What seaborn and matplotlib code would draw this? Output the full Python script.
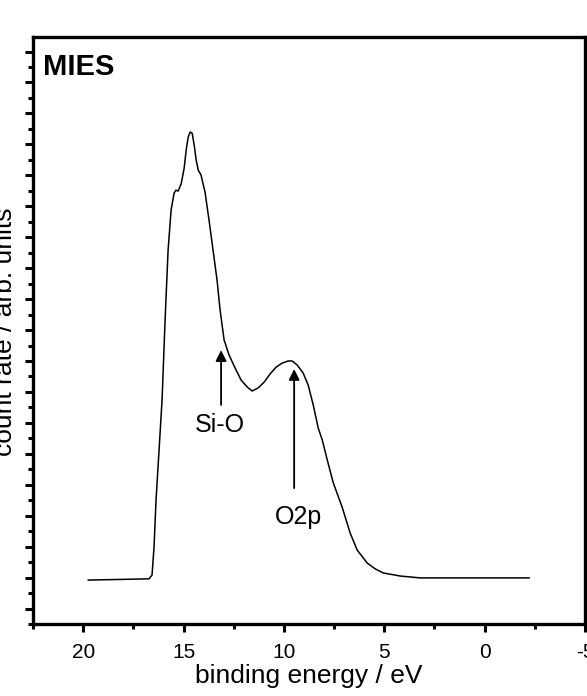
import matplotlib
matplotlib.use("Agg")
import matplotlib.pyplot as plt
import seaborn as sns
import pandas as pd
from matplotlib.ticker import MultipleLocator

# binding energy (eV) and count rate (arb. units)
energy = [19.76, 18.16, 16.72, 16.57, 16.47, 16.37, 16.22, 16.07, 15.92, 15.77,
          15.62, 15.47, 15.37, 15.27, 15.12, 14.97, 14.87, 14.77, 14.67, 14.57,
          14.47, 14.37, 14.27, 14.13, 13.93, 13.73, 13.53, 13.33, 13.18, 12.98,
          12.73, 12.43, 12.13, 11.83, 11.58, 11.28, 10.98, 10.69, 10.39, 10.09,
          9.79, 9.59, 9.34, 9.04, 8.79, 8.54, 8.29, 8.09, 7.84, 7.54,
          7.10, 6.70, 6.35, 5.85, 5.45, 5.05, 4.20, 3.21, 0.72, -2.23]
counts = [0.92, 0.94, 0.96, 1.08, 1.99, 3.51, 5.12, 6.74, 9.32, 11.58,
          12.88, 13.43, 13.52, 13.49, 13.72, 14.23, 14.81, 15.23, 15.40, 15.36,
          14.98, 14.49, 14.17, 14.01, 13.46, 12.55, 11.58, 10.61, 9.65, 8.68,
          8.19, 7.77, 7.38, 7.16, 7.03, 7.13, 7.32, 7.58, 7.80, 7.93,
          8.00, 8.00, 7.87, 7.61, 7.22, 6.58, 5.83, 5.45, 4.80, 4.06,
          3.28, 2.44, 1.89, 1.47, 1.28, 1.15, 1.05, 0.99, 0.99, 0.99]

x_ticks = [20, 15, 10, 5, 0, -5]
x_tick_labels = ["20", "15", "10", "5", "0", "-5"]

annot_labels = ["Si-O", "O2p"]
annot_x = [13.13, 9.49]
annot_tip = [8.35, 7.74]
annot_tail = [6.58, 3.89]
annot_text_x = [13.2, 9.29]
annot_text_y = [5.93, 2.96]

sns.set_style("ticks")
plt.rcParams["font.family"] = ["Liberation Sans", "DejaVu Sans"]
plt.rcParams["text.color"] = "black"
plt.rcParams["axes.labelcolor"] = "black"
plt.rcParams["axes.edgecolor"] = "black"
plt.rcParams["xtick.color"] = "black"
plt.rcParams["ytick.color"] = "black"

df = pd.DataFrame({"energy": energy, "counts": counts})

fig = plt.figure(figsize=(5.87, 6.96), dpi=100)
ax = fig.add_axes([33 / 587, 1 - 624 / 696, 552 / 587, 587 / 696])

sns.lineplot(data=df, x="energy", y="counts", ax=ax, color="black",
             linewidth=1.1, sort=False, estimator=None)

ax.set_xlim(22.5, -5)
ax.set_ylim(-0.5, 18.47)
ax.set_xticks(x_ticks)
ax.set_xticklabels(x_tick_labels, fontsize=15)
ax.xaxis.set_minor_locator(MultipleLocator(2.5))
ax.yaxis.set_major_locator(MultipleLocator(1))
ax.yaxis.set_minor_locator(MultipleLocator(0.5))
ax.set_yticklabels([])
ax.tick_params(axis="both", which="major", direction="out", length=6, width=2.2,
               pad=8, color="black", labelcolor="black")
ax.tick_params(axis="both", which="minor", direction="out", length=3.5, width=2.2,
               color="black")
ax.tick_params(axis="x", which="both", top=False)
ax.tick_params(axis="y", which="both", right=False)
for s in ax.spines.values():
    s.set_linewidth(2.4)
    s.set_color("black")
    s.set_visible(True)

ax.set_xlabel("binding energy / eV", fontsize=19, labelpad=1, color="black")
ax.set_ylabel("")
fig.text(17 / 587, 1 - 332 / 696, "count rate / arb. units", rotation=90,
         ha="right", va="center", fontsize=19, color="black")

ax.text(0.018, 0.972, "MIES", transform=ax.transAxes, fontsize=21,
        fontweight="bold", ha="left", va="top", color="black")

for lab, xx, tip, tail, tx, ty in zip(annot_labels, annot_x, annot_tip, annot_tail,
                                      annot_text_x, annot_text_y):
    ax.annotate("", xy=(xx, tip), xytext=(xx, tail),
                arrowprops=dict(arrowstyle="-|>", color="black", lw=1.3,
                                mutation_scale=16, shrinkA=0, shrinkB=0))
    ax.text(tx, ty, lab, fontsize=18, ha="center", va="center", color="black")

fig.savefig("out.png", dpi=100)
